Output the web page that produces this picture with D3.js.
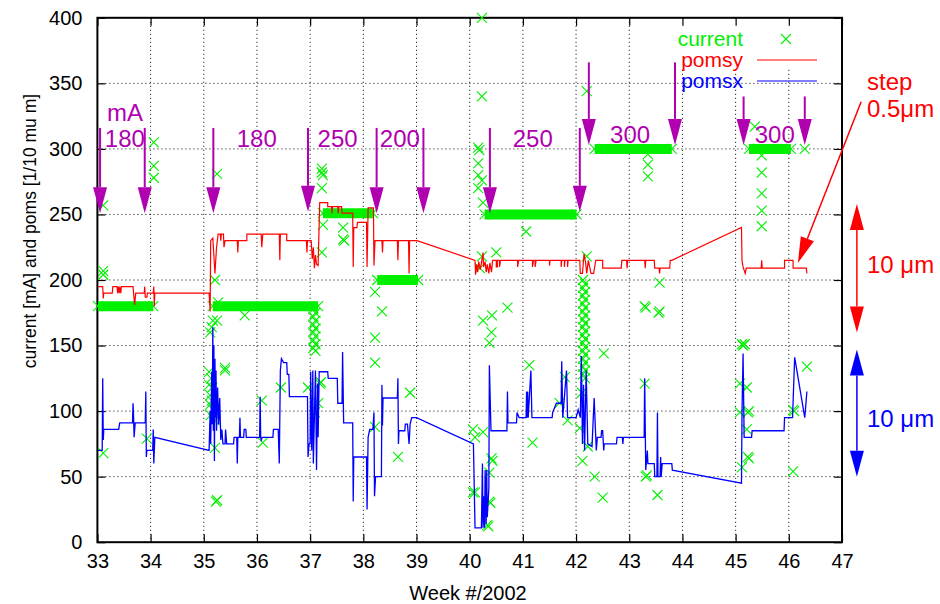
<!DOCTYPE html>
<html>
<head>
<meta charset="utf-8">
<script src="https://cdn.jsdelivr.net/npm/d3@7"></script>
<style>
body { margin: 0; background: #fff; }
text { font-family: 'Liberation Sans', Arial, sans-serif; }
</style>
</head>
<body>
<div id="plot"></div>
<script>
let svgWidth = 940;
let svgHeight = 604;

let margin = { top: 17.8, right: 98, bottom: 61.8, left: 97.4 };
let chartWidth = svgWidth - margin.left - margin.right;
let chartHeight = svgHeight - margin.top - margin.bottom;

// tick values
let xTicks = [33, 34, 35, 36, 37, 38, 39, 40, 41, 42, 43, 44, 45, 46, 47];
let yTicks = [0, 50, 100, 150, 200, 250, 300, 350, 400];

// current [mA], single readings [week, mA]
let currentPoints = [
    [34.06, 305], [34.06, 287], [34.06, 278], [35.25, 281],
    [37.22, 285], [37.22, 282], [37.24, 280], [37.22, 270], [37.24, 242], [37.22, 221],
    [40.23, 400], [40.23, 340], [40.16, 301], [40.18, 299], [40.16, 289], [40.16, 280],
    [40.23, 276], [40.16, 270], [40.25, 259], [40.23, 218], [40.19, 209], [40.5, 221],
    [41.06, 237], [42.2, 344], [43.35, 296], [43.35, 288], [43.35, 279],
    [45.36, 317], [45.49, 295], [45.49, 282], [45.49, 266], [45.49, 253], [45.49, 241],
    [33.11, 257], [33.11, 207], [33.11, 204], [35.21, 200], [35.27, 183], [35.77, 173],
    [35.17, 169], [35.15, 164], [35.25, 169], [35.12, 160], [35.1, 130], [35.14, 125],
    [35.1, 120], [35.16, 118], [35.12, 112], [35.15, 108], [35.12, 105], [35.18, 101],
    [35.13, 97], [35.2, 93], [35.4, 133],
    [37.62, 240], [37.62, 231], [37.64, 230],
    [38.22, 191], [38.35, 176], [38.22, 156], [38.22, 137],
    [40.71, 179], [40.42, 173], [40.25, 169], [40.41, 160], [40.37, 152], [41.12, 135],
    [42.2, 218], [43.57, 198], [43.29, 180], [43.31, 179], [43.57, 176], [43.55, 175],
    [45.12, 151], [45.14, 150], [45.17, 151], [42.52, 144], [46.34, 134],
    [33.11, 68], [33.93, 79], [35.21, 72], [35.23, 31], [35.25, 32], [35.4, 131],
    [36.11, 76], [36.09, 108], [36.45, 118], [36.96, 118], [37.18, 121], [37.2, 122],
    [37.15, 106], [37.09, 99], [38.22, 88], [38.88, 114], [38.65, 65],
    [40.06, 86], [40.1, 80], [40.25, 84], [40.41, 64], [40.43, 62], [40.37, 53],
    [40.06, 38], [40.1, 38], [40.37, 31], [40.39, 30], [40.33, 13], [40.35, 12],
    [41.18, 76], [41.79, 126], [42.11, 114], [41.69, 106], [41.84, 93], [42.07, 87],
    [42.22, 73], [42.12, 62], [42.35, 50], [42.5, 34], [43.29, 121], [43.31, 50],
    [43.33, 51], [43.53, 36], [45.08, 121], [45.21, 118], [45.08, 99], [45.23, 99],
    [45.25, 100], [45.21, 86], [45.23, 65], [45.25, 64], [45.12, 57], [46.08, 101],
    [46.1, 100], [46.08, 54], [46.3, 300],
    // current decay at end of fills
    [37.06, 178], [37.1, 175], [37.06, 172], [37.1, 169], [37.06, 166], [37.1, 163],
    [37.06, 160], [37.1, 157], [37.06, 154], [37.1, 151], [37.06, 148], [37.1, 146],
    [42.13, 200], [42.17, 197], [42.13, 194], [42.17, 191], [42.13, 188], [42.17, 185],
    [42.13, 182], [42.17, 179], [42.13, 176], [42.17, 173], [42.13, 170], [42.17, 167],
    [42.13, 164], [42.17, 161], [42.13, 158], [42.17, 155], [42.13, 152], [42.17, 149],
    [42.13, 146], [42.17, 143], [42.13, 140], [42.17, 137], [42.13, 134], [42.17, 131],
    [42.13, 128], [42.17, 125]
];

// current [mA], stable fills [from week, to week, mA]
let currentRuns = [
    [33.01, 34.05, 180],
    [35.17, 37.15, 180],
    [37.24, 38.18, 251],
    [38.26, 39.03, 200],
    [40.28, 42.01, 250],
    [42.35, 43.8, 300],
    [45.25, 46.04, 300]
];

// pomsy [1/10 um]
let pomsy = [
    [33.01, 195], [33.1, 195], [33.11, 186], [33.12, 190], [33.28, 190], [33.29, 195],
    [33.37, 195], [33.38, 190], [33.39, 195], [33.41, 190], [33.42, 195], [33.44, 190],
    [33.45, 195], [33.67, 195], [33.68, 190], [33.7, 181], [33.72, 190], [33.88, 190],
    [33.89, 195], [33.9, 187], [33.93, 187], [33.94, 190], [34.05, 190], [34.06, 195],
    [34.07, 180], [34.08, 190], [35.1, 190], [35.12, 176], [35.13, 230], [35.17, 232],
    [35.21, 205], [35.24, 225], [35.27, 235], [35.31, 235], [35.32, 230], [35.33, 235],
    [35.37, 235], [35.38, 225], [35.4, 230], [35.63, 230], [35.64, 221], [35.65, 230],
    [35.81, 230], [35.81, 235], [36.08, 235], [36.09, 225], [36.11, 235], [36.42, 235],
    [36.43, 215], [36.44, 235], [36.56, 235], [36.56, 230], [36.93, 230], [36.94, 221],
    [36.95, 230], [37.02, 230], [37.04, 216], [37.06, 225], [37.08, 209], [37.1, 219],
    [37.12, 212], [37.15, 211], [37.18, 259], [37.33, 259], [37.33, 256], [37.4, 256],
    [37.41, 251], [37.42, 256], [37.52, 256], [37.53, 251], [37.54, 256], [37.59, 256],
    [37.6, 251], [37.8, 251], [37.81, 210], [37.82, 240], [37.88, 240], [37.89, 244],
    [38.06, 244], [38.07, 210], [38.09, 255], [38.19, 255], [38.2, 211], [38.22, 230],
    [38.35, 230], [38.36, 221], [38.37, 230], [38.64, 230], [38.65, 215], [38.66, 230],
    [38.85, 230], [38.86, 205], [38.87, 230], [39.01, 230], [40.1, 215], [40.11, 204],
    [40.13, 212], [40.15, 206], [40.17, 214], [40.2, 208], [40.22, 213], [40.25, 221],
    [40.26, 210], [40.29, 214], [40.31, 206], [40.33, 212], [40.36, 205], [40.38, 213],
    [40.41, 206], [40.43, 215], [40.5, 215], [40.5, 210], [40.52, 210], [40.52, 215],
    [40.56, 215], [40.56, 210], [40.58, 215], [40.9, 215], [40.9, 210], [40.92, 215],
    [41.18, 215], [41.18, 210], [41.2, 215], [41.23, 215], [41.23, 210], [41.25, 215],
    [41.5, 215], [41.5, 211], [41.51, 215], [41.72, 215], [41.72, 210], [41.73, 215],
    [41.78, 215], [41.78, 210], [41.79, 215], [41.84, 215], [41.84, 210], [41.85, 215],
    [42.07, 215], [42.08, 205], [42.12, 205], [42.15, 220], [42.18, 213], [42.2, 205],
    [42.23, 215], [42.28, 205], [42.33, 205], [42.37, 215], [42.5, 215], [42.5, 209],
    [42.85, 209], [42.86, 215], [42.95, 215], [42.96, 209], [42.97, 215], [43.29, 215],
    [43.3, 209], [43.31, 215], [43.47, 215], [43.48, 209], [43.56, 209], [43.57, 205],
    [43.58, 209], [43.76, 209], [43.77, 215], [43.8, 215], [45.11, 240], [45.12, 215],
    [45.14, 210], [45.18, 205], [45.2, 209], [45.48, 209], [45.49, 215], [45.5, 209],
    [45.92, 209], [45.92, 215], [46.08, 215], [46.08, 209], [46.33, 209], [46.34, 205]
];

// pomsx [1/10 um]
let pomsx = [
    [33.01, 70], [33.09, 70], [33.1, 125], [33.11, 78], [33.12, 86], [33.4, 86],
    [33.42, 91], [33.66, 91], [33.67, 106], [33.68, 96], [33.69, 80], [33.71, 91],
    [33.9, 91], [33.91, 115], [33.92, 65], [33.93, 70], [34.04, 70], [34.05, 86],
    [34.06, 60], [34.08, 80], [35.1, 70], [35.12, 100], [35.13, 75], [35.15, 130],
    [35.16, 90], [35.17, 164], [35.18, 85], [35.19, 150], [35.2, 62], [35.21, 140],
    [35.22, 95], [35.23, 131], [35.24, 85], [35.26, 118], [35.28, 90], [35.3, 110],
    [35.32, 78], [35.34, 86], [35.36, 75], [35.4, 75], [35.41, 86], [35.43, 75],
    [35.56, 75], [35.57, 80], [35.62, 80], [35.63, 60], [35.64, 80], [35.67, 80],
    [35.68, 95], [35.69, 80], [35.75, 80], [35.76, 86], [35.79, 86], [35.8, 80],
    [36.05, 80], [36.06, 111], [36.07, 80], [36.08, 78], [36.1, 80], [36.3, 80],
    [36.31, 86], [36.4, 86], [36.42, 60], [36.44, 131], [36.46, 140], [36.5, 137],
    [36.56, 137], [36.57, 128], [36.6, 128], [36.61, 111], [36.95, 111], [36.96, 65],
    [36.98, 75], [37.0, 75], [37.01, 130], [37.03, 70], [37.05, 131], [37.06, 60],
    [37.1, 131], [37.12, 55], [37.14, 121], [37.15, 80], [37.17, 130], [37.33, 130],
    [37.34, 125], [37.51, 125], [37.52, 106], [37.6, 106], [37.61, 145], [37.63, 91],
    [37.8, 91], [37.81, 31], [37.82, 65], [38.06, 65], [38.07, 25], [38.09, 80],
    [38.12, 86], [38.18, 86], [38.2, 99], [38.21, 35], [38.23, 50], [38.34, 50],
    [38.35, 120], [38.36, 89], [38.37, 110], [38.64, 110], [38.65, 125], [38.66, 75],
    [38.67, 85], [38.78, 85], [38.79, 90], [38.83, 90], [38.84, 85], [38.86, 75],
    [38.88, 90], [38.91, 95], [39.0, 95], [40.07, 75], [40.1, 11], [40.22, 11],
    [40.24, 60], [40.25, 11], [40.26, 35], [40.28, 11], [40.29, 55], [40.31, 14],
    [40.32, 55], [40.33, 19], [40.36, 41], [40.37, 135], [40.4, 85], [40.7, 85],
    [40.71, 115], [40.72, 91], [40.88, 91], [40.89, 99], [40.93, 95], [41.06, 95],
    [41.07, 115], [41.08, 95], [41.09, 115], [41.1, 95], [41.15, 131], [41.17, 95],
    [41.55, 95], [41.56, 99], [41.63, 106], [41.72, 106], [41.73, 138], [41.75, 95],
    [41.82, 131], [41.84, 95], [42.0, 95], [42.04, 101], [42.08, 95], [42.1, 142],
    [42.12, 75], [42.14, 120], [42.16, 70], [42.19, 131], [42.22, 75], [42.3, 73],
    [42.34, 110], [42.38, 70], [42.4, 80], [42.47, 80], [42.48, 85], [42.5, 85],
    [42.52, 70], [42.53, 75], [42.76, 75], [42.77, 80], [42.87, 80], [42.88, 75],
    [42.89, 80], [43.28, 80], [43.29, 125], [43.31, 55], [43.34, 70], [43.35, 60],
    [43.47, 60], [43.48, 50], [43.52, 50], [43.53, 99], [43.54, 50], [43.58, 50],
    [43.59, 65], [43.6, 50], [43.62, 60], [43.8, 60], [43.81, 55], [45.11, 45],
    [45.12, 99], [45.14, 144], [45.16, 80], [45.3, 80], [45.31, 85], [45.91, 85],
    [45.92, 95], [46.07, 95], [46.11, 141], [46.3, 95], [46.34, 115]
];

// fill current markers [week, from mA, to mA]
let fillArrows = [
    [33.05, 316, 251], [33.89, 316, 251], [35.18, 316, 251], [36.96, 316, 252],
    [38.25, 316, 251], [39.13, 316, 251], [40.38, 316, 251], [42.07, 316, 252],
    [42.24, 366, 303], [43.86, 366, 303], [45.15, 340, 303], [46.3, 340, 303]
];
// fill current labels [text, week, baseline mA]
let fillLabels = [
    ['mA', 33.18, 321], ['180', 33.14, 301.5], ['180', 35.62, 301.5],
    ['250', 37.14, 301.5], ['200', 38.31, 301.5], ['250', 40.81, 301.5],
    ['300', 42.64, 304.5], ['300', 45.36, 304.5]
];

let magenta = '#b000b0';
let green = '#00f000';

let $svg = d3.select('#plot')
    .append('svg')
    .attr('width', svgWidth)
    .attr('height', svgHeight);

let $chartGroup = $svg.append('g')
    .attr('transform', `translate(${margin.left}, ${margin.top})`);

let xLinearScale = d3.scaleLinear().domain([33, 47]).range([0, chartWidth]);
let yLinearScale = d3.scaleLinear().domain([0, 400]).range([chartHeight, 0]);

// grid
$chartGroup.append('g')
    .selectAll('line')
    .data(xTicks.slice(1, -1))
    .enter()
    .append('line')
    .attr('x1', d => xLinearScale(d)).attr('x2', d => xLinearScale(d))
    .attr('y1', 0).attr('y2', chartHeight)
    .attr('stroke', '#000').attr('stroke-width', 1).attr('stroke-dasharray', '1,3');

$chartGroup.append('g')
    .selectAll('line')
    .data(yTicks.slice(1, -1))
    .enter()
    .append('line')
    .attr('x1', 0).attr('x2', chartWidth)
    .attr('y1', d => yLinearScale(d)).attr('y2', d => yLinearScale(d))
    .attr('stroke', '#000').attr('stroke-width', 1).attr('stroke-dasharray', '1,3');

// key area hides the grid
$chartGroup.append('rect')
    .attr('x', xLinearScale(43.99)).attr('y', 0)
    .attr('width', chartWidth - xLinearScale(43.99)).attr('height', yLinearScale(361))
    .attr('fill', '#fff');

// axes
let bottomAxis = d3.axisBottom(xLinearScale).tickValues(xTicks).tickSizeInner(-8).tickSizeOuter(0).tickPadding(12);
let leftAxis = d3.axisLeft(yLinearScale).tickValues(yTicks).tickSizeInner(-8).tickSizeOuter(0).tickPadding(15);
let topAxis = d3.axisTop(xLinearScale).tickValues(xTicks).tickSizeInner(-8).tickSizeOuter(0).tickFormat('');
let rightAxis = d3.axisRight(yLinearScale).tickValues(yTicks).tickSizeInner(-8).tickSizeOuter(0).tickFormat('');

$chartGroup.append('g').attr('transform', `translate(0, ${chartHeight})`).attr('id', 'x-axis').call(bottomAxis);
$chartGroup.append('g').attr('id', 'y-axis').call(leftAxis);
$chartGroup.append('g').call(topAxis);
$chartGroup.append('g').attr('transform', `translate(${chartWidth}, 0)`).call(rightAxis);

$chartGroup.selectAll('.domain').remove();
$chartGroup.selectAll('.tick line').attr('stroke', '#000').attr('stroke-width', 1.2);
$chartGroup.selectAll('.tick text')
    .attr('fill', '#000')
    .style('font-size', '20px')
    .style('font-family', "'Liberation Sans', Arial, sans-serif");

$chartGroup.append('rect')
    .attr('width', chartWidth).attr('height', chartHeight)
    .attr('fill', 'none').attr('stroke', '#000').attr('stroke-width', 2);

// axis labels
$svg.append('text')
    .attr('x', 468).attr('y', 600)
    .attr('text-anchor', 'middle')
    .style('font-size', '20px')
    .text('Week #/2002');

$svg.append('text')
    .attr('transform', 'translate(36, 231) rotate(-90)')
    .attr('text-anchor', 'middle')
    .style('font-size', '17.5px')
    .text('current [mA] and poms [1/10 mu m]');

// current: stable fills
let crossPath = 'M-5,-5L5,5M-5,5L5,-5';
let $current = $chartGroup.append('g').attr('class', 'current');

$current.selectAll('line.run')
    .data(currentRuns)
    .enter()
    .append('line')
    .attr('class', 'run')
    .attr('x1', d => xLinearScale(d[0]))
    .attr('x2', d => xLinearScale(d[1]))
    .attr('y1', d => yLinearScale(d[2]))
    .attr('y2', d => yLinearScale(d[2]))
    .attr('stroke', green)
    .attr('stroke-width', 10);

let runEnds = [];
currentRuns.forEach(r => { runEnds.push([r[0], r[2]]); runEnds.push([r[1], r[2]]); });

$current.selectAll('path.point')
    .data(currentPoints.concat(runEnds))
    .enter()
    .append('path')
    .attr('class', 'point')
    .attr('d', crossPath)
    .attr('transform', d => `translate(${xLinearScale(d[0])}, ${yLinearScale(d[1])})`)
    .attr('fill', 'none')
    .attr('stroke', green)
    .attr('stroke-width', 1.1);

// poms lines
let line = d3.line()
    .x(d => xLinearScale(d[0]))
    .y(d => yLinearScale(d[1]));

$chartGroup.append('path')
    .datum(pomsy)
    .attr('d', line)
    .attr('fill', 'none')
    .attr('stroke', '#ff0000')
    .attr('stroke-width', 1.2);

$chartGroup.append('path')
    .datum(pomsx)
    .attr('d', line)
    .attr('fill', 'none')
    .attr('stroke', '#0000ff')
    .attr('stroke-width', 1.3);

// key
let keyRows = [
    { name: 'current', color: green, y: 39, type: 'point' },
    { name: 'pomsy', color: '#ff0000', y: 60, type: 'line' },
    { name: 'pomsx', color: '#0000ff', y: 81, type: 'line' }
];
keyRows.forEach(k => {
    $svg.append('text')
        .attr('x', 743).attr('y', k.y + 7)
        .attr('text-anchor', 'end')
        .attr('fill', k.color)
        .style('font-size', '21px')
        .text(k.name);
    if (k.type === 'point') {
        $svg.append('path')
            .attr('d', crossPath)
            .attr('transform', `translate(786, ${k.y})`)
            .attr('fill', 'none').attr('stroke', k.color).attr('stroke-width', 1.1);
    } else {
        $svg.append('line')
            .attr('x1', 757).attr('x2', 817).attr('y1', k.y).attr('y2', k.y)
            .attr('stroke', k.color).attr('stroke-width', 1.2);
    }
});

// arrow helper (pixel coordinates)
function drawArrow($g, x1, y1, x2, y2, color, width, both) {
    let len = 26, half = 7;
    let dx = x2 - x1, dy = y2 - y1;
    let d = Math.sqrt(dx * dx + dy * dy);
    let ux = dx / d, uy = dy / d;
    function head(tx, ty, vx, vy) {
        let bx = tx - vx * len, by = ty - vy * len;
        $g.append('polygon')
            .attr('points', `${tx},${ty} ${bx - vy * half},${by + vx * half} ${bx + vy * half},${by - vx * half}`)
            .attr('fill', color);
    }
    $g.append('line')
        .attr('x1', both ? x1 + ux * len : x1).attr('y1', both ? y1 + uy * len : y1)
        .attr('x2', x2 - ux * len).attr('y2', y2 - uy * len)
        .attr('stroke', color).attr('stroke-width', width);
    head(x2, y2, ux, uy);
    if (both) head(x1, y1, -ux, -uy);
}

fillArrows.forEach(a => {
    drawArrow($chartGroup, xLinearScale(a[0]), yLinearScale(a[1]), xLinearScale(a[0]), yLinearScale(a[2]), magenta, 2, false);
});

$chartGroup.selectAll('text.fill')
    .data(fillLabels)
    .enter()
    .append('text')
    .attr('class', 'fill')
    .attr('x', d => xLinearScale(d[1]))
    .attr('y', d => yLinearScale(d[2]))
    .attr('fill', magenta)
    .style('font-size', '24px')
    .text(d => d[0]);

// step and scale annotations, right of the plot
drawArrow($chartGroup, xLinearScale(47.36), yLinearScale(336), xLinearScale(46.17), yLinearScale(213), '#ff0000', 1.5, false);
drawArrow($chartGroup, xLinearScale(47.28), yLinearScale(258), xLinearScale(47.28), yLinearScale(160), '#ff0000', 1.5, true);
drawArrow($chartGroup, xLinearScale(47.28), yLinearScale(147), xLinearScale(47.28), yLinearScale(50), '#0000ff', 1.5, true);

let notes = [
    { parts: ['step'], week: 47.47, val: 345, color: '#ff0000' },
    { parts: ['0.5', '\u03bc', 'm'], week: 47.47, val: 324, color: '#ff0000' },
    { parts: ['10 ', '\u03bc', 'm'], week: 47.47, val: 205, color: '#ff0000' },
    { parts: ['10 ', '\u03bc', 'm'], week: 47.47, val: 88, color: '#0000ff' }
];
notes.forEach(n => {
    let $t = $chartGroup.append('text')
        .attr('x', xLinearScale(n.week))
        .attr('y', yLinearScale(n.val))
        .attr('fill', n.color)
        .style('font-size', '24px');
    n.parts.forEach(p => $t.append('tspan').text(p));
});
</script>
</body>
</html>
